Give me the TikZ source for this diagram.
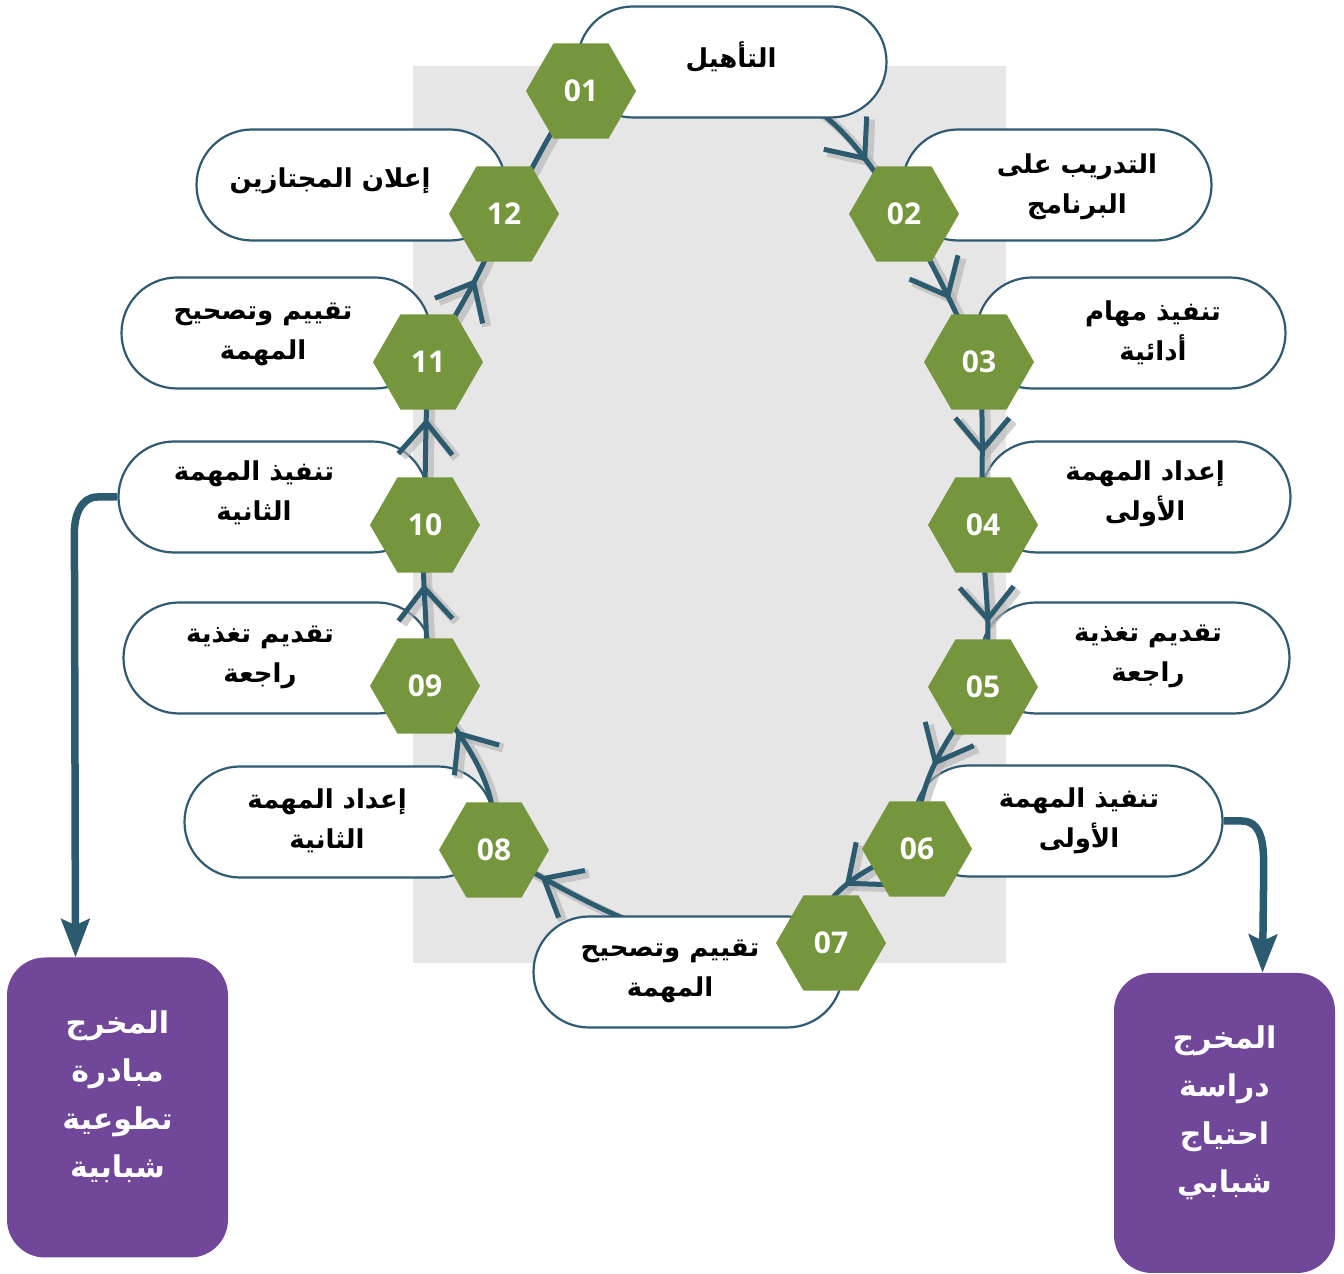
\documentclass[tikz,border=0pt]{standalone}
\usepackage{fontspec}
\setmainfont{Open Sans}
\newfontfamily\arabicfont[Script=Arabic]{DejaVu Sans}
\TeXXeTstate=1
\usetikzlibrary{shapes,arrows.meta,positioning,decorations.markings}
\definecolor{hexgreen}{HTML}{76963E}
\definecolor{loopblue}{HTML}{2C5B6F}
\definecolor{pillblue}{HTML}{2F5A72}
\definecolor{outpurple}{HTML}{71479A}
\definecolor{bggrey}{HTML}{E6E6E6}
\tikzstyle{hex} = [regular polygon,regular polygon sides=6,minimum size=110pt,inner sep=0,fill=hexgreen,text=white,font=\fontsize{30}{34}\selectfont\bfseries]
\tikzstyle{pill} = [draw=pillblue,line width=2.2pt,rounded rectangle,minimum width=309pt,minimum height=111pt,inner sep=0,fill=white]
\tikzstyle{txt} = [align=center,inner sep=0,font=\arabicfont\bfseries\fontsize{26}{40}\selectfont]
\tikzstyle{outbox} = [fill=outpurple,rounded corners=38pt,minimum width=221pt,minimum height=300pt]
\tikzstyle{outtxt} = [text=white,align=center,inner sep=0,font=\arabicfont\bfseries\fontsize{30}{48}\selectfont]
\tikzstyle{link} = [loopblue,line width=5pt]
\tikzstyle{shade} = [black!30,line width=9pt,opacity=0.6]
\tikzstyle{exitarrow} = [draw=loopblue,line width=7.5pt,-{Stealth[length=38pt,width=28pt,inset=6pt]}]
\tikzset{chev/.style={postaction={decorate,decoration={markings,mark=at position #1 with {\draw[line join=miter] (-32pt,27pt) -- (0,0) -- (-32pt,-27pt);}}}}}
\def\ar#1{\beginR #1\endR}
% the twelve steps, hexagon to hexagon
\def\looppath#1{
  \draw[#1,chev=0.82] (c01) .. controls +(10:230) and +(125:118) .. (c02);
  \draw[#1,chev=0.56] (c02) to[out=-60,in=115] (c03);
  \draw[#1,chev=0.54] (c03) to[out=-85,in=92] (c04);
  \draw[#1,chev=0.58] (c04) to[out=-90,in=80] (c05);
  \draw[#1,chev=0.5] (c05) to[out=-124,in=92] (c06);
  \draw[#1,chev=0.52] (c06) to[out=-165,in=135] (c07);
  \draw[#1,chev=0.84] (c07) to[out=190,in=-30] (c08);
  \draw[#1,chev=0.68] (c08) to[out=85,in=-55] (c09);
  \draw[#1,chev=0.61] (c09) to[out=85,in=-95] (c10);
  \draw[#1,chev=0.63] (c10) to[out=90,in=-92] (c11);
  \draw[#1,chev=0.55] (c11) to[out=60,in=-110] (c12);
  \draw[#1] (c12) to[out=55,in=-130] (c01);
}

\begin{document}
\begin{tikzpicture}[x=1pt,y=1pt]
  \useasboundingbox (0,0) rectangle (1344,1274);
  \fill[bggrey] (413,311) rectangle (1006,1208);
  \coordinate (c01) at (581,1183);
  \coordinate (c02) at (904,1060);
  \coordinate (c03) at (979,912);
  \coordinate (c04) at (983,749);
  \coordinate (c05) at (983,587);
  \coordinate (c06) at (917,425);
  \coordinate (c07) at (831,331);
  \coordinate (c08) at (494,424);
  \coordinate (c09) at (425,588);
  \coordinate (c10) at (425,749);
  \coordinate (c11) at (428,912);
  \coordinate (c12) at (504,1060);
  % labels under the loop
  \node[pill] (p02) at (1057,1089) {};
  \node[pill] (p03) at (1131,941) {};
  \node[pill] (p04) at (1136,777) {};
  \node[pill] (p05) at (1135,616) {};
  \node[pill] (p06) at (1068,453) {};
  \node[pill] (p08) at (339,452) {};
  \node[pill] (p09) at (278,616) {};
  \node[pill] (p10) at (273,777) {};
  \node[pill] (p11) at (276,941) {};
  \node[pill] (p12) at (351,1089) {};
  \begin{scope}[transform canvas={shift={(4pt,-3pt)}}]
    \looppath{shade}
  \end{scope}
  \looppath{link}
  % these two hide the loop
  \node[pill] (p01) at (732,1212) {};
  \node[pill] (p07) at (688,302) {};
  \node[txt] (t01) at (731,1217) {\ar{التأهيل}};
  \node[txt] (t02) at (1077,1087) {\ar{التدريب على}\\\ar{البرنامج}};
  \node[txt] (t03) at (1153,941) {\ar{تنفيذ مهام}\\\ar{أدائية}};
  \node[txt] (t04) at (1145,780) {\ar{إعداد المهمة}\\\ar{الأولى}};
  \node[txt] (t05) at (1148,618) {\ar{تقديم تغذية}\\\ar{راجعة}};
  \node[txt] (t06) at (1079,453) {\ar{تنفيذ المهمة}\\\ar{الأولى}};
  \node[txt] (t07) at (670,303) {\ar{تقييم وتصحيح}\\\ar{المهمة}};
  \node[txt] (t08) at (327,453) {\ar{إعداد المهمة}\\\ar{الثانية}};
  \node[txt] (t09) at (260,617) {\ar{تقديم تغذية}\\\ar{راجعة}};
  \node[txt] (t10) at (254,781) {\ar{تنفيذ المهمة}\\\ar{الثانية}};
  \node[txt] (t11) at (263,940) {\ar{تقييم وتصحيح}\\\ar{المهمة}};
  \node[txt] (t12) at (330,1093) {\ar{إعلان المجتازين}};
  % hexagons
  \node[hex] (h01) at (c01) {01};
  \node[hex] (h02) at (c02) {02};
  \node[hex] (h03) at (c03) {03};
  \node[hex] (h04) at (c04) {04};
  \node[hex] (h05) at (c05) {05};
  \node[hex] (h06) at (c06) {06};
  \node[hex] (h07) at (c07) {07};
  \node[hex] (h08) at (c08) {08};
  \node[hex] (h09) at (c09) {09};
  \node[hex] (h10) at (c10) {10};
  \node[hex] (h11) at (c11) {11};
  \node[hex] (h12) at (c12) {12};
  % outputs
  \node[outbox] (o1) at (117.5,166.5) {};
  \node[outbox] (o2) at (1224.5,151) {};
  \node[outtxt] (u1) at ([yshift=11pt]o1.center) {\ar{المخرج}\\\ar{مبادرة}\\\ar{تطوعية}\\\ar{شبابية}};
  \node[outtxt] (u2) at ([yshift=10pt]o2.center) {\ar{المخرج}\\\ar{دراسة}\\\ar{احتياج}\\\ar{شبابي}};
  \draw[exitarrow] (p10.west) -- ++(-20,0) to[out=180,in=90] ++(-23,-35) -- ([xshift=-42pt]o1.north);
  \draw[exitarrow] (p06.east) -- ++(18,0) to[out=0,in=90] ++(22,-60) -- ([xshift=38pt]o2.north);
\end{tikzpicture}
\end{document}
